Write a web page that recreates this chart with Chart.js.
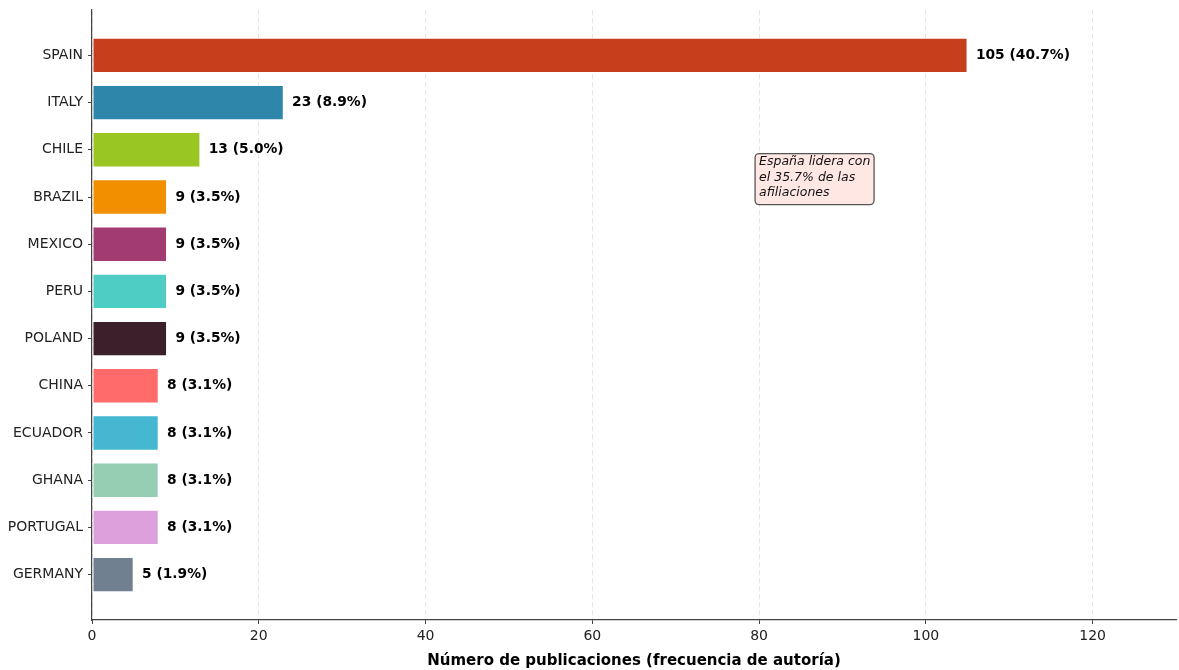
<!DOCTYPE html>
<html>
<head>
<meta charset="utf-8">
<script src="https://cdn.jsdelivr.net/npm/chart.js@4.4.1/dist/chart.umd.min.js"></script>
<style>
  html, body { margin: 0; padding: 0; background: #fff; }
  #wrap { width: 1179px; height: 670px; }
</style>
</head>
<body>
<div id="wrap"><canvas id="countryChart" width="1179" height="670"></canvas></div>
<script>
// data
const countries = ['SPAIN', 'ITALY', 'CHILE', 'BRAZIL', 'MEXICO', 'PERU', 'POLAND', 'CHINA', 'ECUADOR', 'GHANA', 'PORTUGAL', 'GERMANY'];
const publications = [105, 23, 13, 9, 9, 9, 9, 8, 8, 8, 8, 5];
const percents = [40.7, 8.9, 5.0, 3.5, 3.5, 3.5, 3.5, 3.1, 3.1, 3.1, 3.1, 1.9];
const barColors = ['#C73E1D', '#2E86AB', '#99C623', '#F18F01', '#A23B72', '#4ECDC4', '#3B1F2B', '#FF6B6B', '#45B7D1', '#96CEB4', '#DDA0DD', '#708090'];
const xTicks = [0, 20, 40, 60, 80, 100, 120];
const noteLines = ['España lidera con', 'el 35.7% de las', 'afiliaciones'];

const FONT = "'DejaVu Sans', sans-serif";

// value labels next to each bar
const valueLabels = {
    id: 'valueLabels',
    afterDatasetsDraw(chart) {
        const ctx = chart.ctx;
        const xs = chart.scales.x, ys = chart.scales.y;
        ctx.save();
        ctx.font = 'bold 13.8px ' + FONT;
        ctx.fillStyle = '#000';
        ctx.textBaseline = 'middle';
        ctx.textAlign = 'left';
        publications.forEach((v, i) => {
            const txt = v + ' (' + percents[i].toFixed(1) + '%)';
            ctx.fillText(txt, xs.getPixelForValue(v + 1), ys.getPixelForValue(i));
        });
        ctx.restore();
    }
};

// annotation box
const noteBox = {
    id: 'noteBox',
    afterDatasetsDraw(chart) {
        const ctx = chart.ctx;
        const xs = chart.scales.x, ys = chart.scales.y;
        const x = xs.getPixelForValue(80) - 4;
        const y = ys.getPixelForValue(2.08);
        const w = 119, h = 51, r = 4;
        ctx.save();
        ctx.beginPath();
        ctx.roundRect(x, y, w, h, r);
        ctx.fillStyle = 'rgba(255,228,225,0.9)';
        ctx.fill();
        ctx.strokeStyle = '#555';
        ctx.lineWidth = 1.3;
        ctx.stroke();
        ctx.font = 'italic 12.5px ' + FONT;
        ctx.fillStyle = '#111';
        ctx.textBaseline = 'top';
        noteLines.forEach((line, i) => ctx.fillText(line, x + 4, y + 2 + i * 15.5));
        ctx.restore();
    }
};

const ctx = document.getElementById('countryChart').getContext('2d');
const countryChart = new Chart(ctx, {
    type: 'bar',
    data: {
        datasets: [{
            data: publications.map((v, i) => ({ x: v, y: i })),
            backgroundColor: barColors,
            borderColor: 'rgba(255,255,255,0.5)',
            borderWidth: 1,
            borderSkipped: false,
            barPercentage: 0.75,
            categoryPercentage: 1.0
        }]
    },
    options: {
        indexAxis: 'y',
        responsive: false,
        animation: false,
        layout: { padding: { top: 10, right: 3, left: 0, bottom: 0 } },
        scales: {
            x: {
                type: 'linear',
                min: 0,
                max: 130,
                afterBuildTicks: (scale) => { scale.ticks = xTicks.map(v => ({ value: v })); },
                afterFit: (scale) => { scale.height = 50; },
                grid: {
                    display: true,
                    color: 'rgba(0,0,0,0.1)',
                    lineWidth: 1,
                    tickLength: 4,
                    tickColor: '#444',
                    drawTicks: true
                },
                border: { display: true, color: '#444', width: 1.2, dash: [5, 3] },
                ticks: { color: '#222', font: { family: FONT, size: 14 }, padding: 4 },
                title: {
                    display: true,
                    text: 'Número de publicaciones (frecuencia de autoría)',
                    color: '#000',
                    font: { family: FONT, size: 15, weight: 'bold' },
                    padding: { top: 2, bottom: 0 }
                }
            },
            y: {
                type: 'linear',
                reverse: true,
                offset: false,
                min: -0.9625,
                max: 11.9625,
                afterBuildTicks: (scale) => { scale.ticks = countries.map((_, i) => ({ value: i })); },
                afterFit: (scale) => { scale.width = 92; scale.paddingTop = 0; scale.paddingBottom = 0; },
                grid: {
                    display: true,
                    offset: false,
                    drawOnChartArea: false,
                    drawTicks: true,
                    tickLength: 4,
                    tickColor: '#444'
                },
                border: { display: true, color: '#444', width: 1.2 },
                ticks: {
                    color: '#222',
                    font: { family: FONT, size: 14 },
                    padding: 5,
                    callback: (v) => countries[v] || ''
                }
            }
        },
        plugins: {
            legend: { display: false },
            tooltip: { enabled: false }
        }
    },
    plugins: [valueLabels, noteBox]
});
</script>
</body>
</html>
